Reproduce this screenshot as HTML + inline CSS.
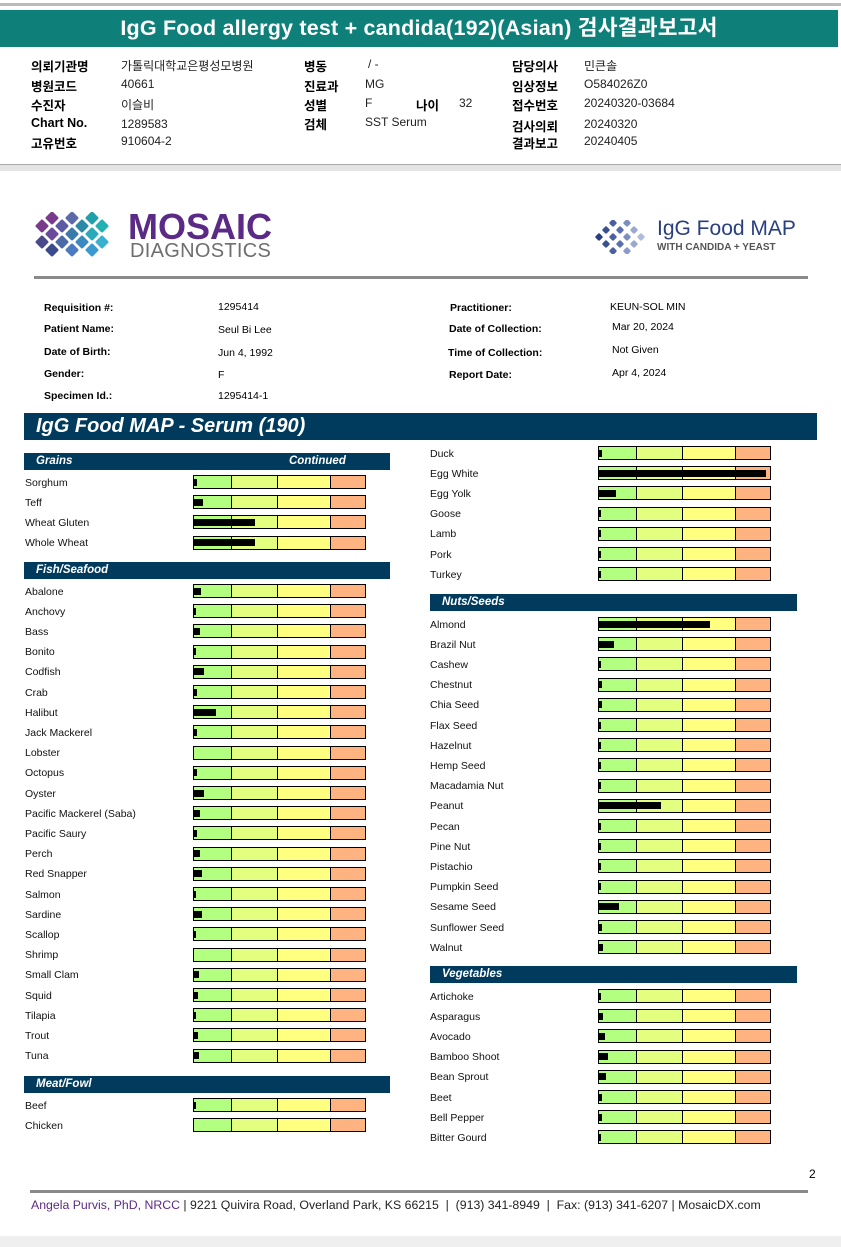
<!DOCTYPE html>
<html><head><meta charset="utf-8"><style>
body{margin:0;width:841px;height:1247px;position:relative;background:#fff;font-family:"Liberation Sans","Noto Sans CJK KR",sans-serif;overflow:hidden}
.a{position:absolute;white-space:nowrap}
.kl{font-weight:bold;font-size:12.5px;color:#000}
.kv{font-size:12px;color:#222;font-family:"Liberation Sans Narrow","Liberation Sans","Noto Sans CJK KR",sans-serif}
.il{font-weight:bold;font-size:10.5px}
.iv{font-size:10.5px}
.sec{position:absolute;background:#003a5c;color:#fff;font-weight:bold;font-style:italic;font-size:11.5px;height:17px;line-height:17px}
.lbl{position:absolute;font-size:10.5px;color:#111;white-space:nowrap}
.bar{position:absolute;height:14px;border:1.5px solid #000;box-sizing:border-box;display:flex}
.bar div{height:100%;box-sizing:border-box}
.fill{position:absolute;background:#000;height:7px}
</style></head><body>
<div class="a" style="left:0;top:3px;width:841px;height:3px;background:#bbb"></div>
<div class="a" style="left:0;top:10px;width:838px;height:37px;background:#0e8079;color:#fff;font-weight:bold;font-size:21.5px;text-align:center;line-height:37px;letter-spacing:0.2px">IgG Food allergy test + candida(192)(Asian) 검사결과보고서</div>
<div>
<div class="a kl" style="left:31px;top:56px">의뢰기관명</div><div class="a kv" style="left:121px;top:57px">가톨릭대학교은평성모병원</div>
<div class="a kl" style="left:31px;top:76px">병원코드</div><div class="a kv" style="left:121px;top:77px">40661</div>
<div class="a kl" style="left:31px;top:95px">수진자</div><div class="a kv" style="left:121px;top:96px">이슬비</div>
<div class="a kl" style="left:31px;top:116px">Chart No.</div><div class="a kv" style="left:121px;top:117px">1289583</div>
<div class="a kl" style="left:31px;top:133px">고유번호</div><div class="a kv" style="left:121px;top:134px">910604-2</div>
<div class="a kl" style="left:304px;top:56px">병동</div><div class="a kv" style="left:368px;top:57px">/ -</div>
<div class="a kl" style="left:304px;top:76px">진료과</div><div class="a kv" style="left:365px;top:77px">MG</div>
<div class="a kl" style="left:304px;top:95px">성별</div><div class="a kv" style="left:365px;top:96px">F</div>
<div class="a kl" style="left:416px;top:95px">나이</div><div class="a kv" style="left:459px;top:96px">32</div>
<div class="a kl" style="left:304px;top:114px">검체</div><div class="a kv" style="left:365px;top:115px">SST Serum</div>
<div class="a kl" style="left:512px;top:56px">담당의사</div><div class="a kv" style="left:584px;top:57px">민큰솔</div>
<div class="a kl" style="left:512px;top:76px">임상정보</div><div class="a kv" style="left:584px;top:77px">O584026Z0</div>
<div class="a kl" style="left:512px;top:95px">접수번호</div><div class="a kv" style="left:584px;top:96px">20240320-03684</div>
<div class="a kl" style="left:512px;top:116px">검사의뢰</div><div class="a kv" style="left:584px;top:117px">20240320</div>
<div class="a kl" style="left:512px;top:133px">결과보고</div><div class="a kv" style="left:584px;top:134px">20240405</div>
</div>
<div class="a" style="left:0;top:164px;width:841px;height:6px;background:#e4e4e4;border-top:1px solid #aaa"></div>

<svg class="a" style="left:34px;top:212px" width="90" height="50">
<g id="dm"></g></svg>
<div class="a" style="left:128px;top:206px;font-size:36px;font-weight:bold;color:#5b2a86;letter-spacing:0px">MOSAIC</div>
<div class="a" style="left:130px;top:240px;font-size:20px;color:#6e6e6e;letter-spacing:0.3px">DIAGNOSTICS</div>
<svg class="a" style="left:593px;top:220px" width="60" height="34"><g id="dm2"></g></svg>
<div class="a" style="left:657px;top:217px;font-size:21px;color:#2a3f7f">IgG Food MAP</div>
<div class="a" style="left:657px;top:242px;font-size:10px;color:#555;font-weight:bold">WITH CANDIDA + YEAST</div>
<div class="a" style="left:34px;top:276px;width:774px;height:3px;background:#8a8a8a"></div>

<div>
<div class="a il" style="left:44px;top:302px">Requisition #:</div><div class="a iv" style="left:218px;top:301px">1295414</div>
<div class="a il" style="left:44px;top:323px">Patient Name:</div><div class="a iv" style="left:218px;top:324px">Seul Bi Lee</div>
<div class="a il" style="left:44px;top:346px">Date of Birth:</div><div class="a iv" style="left:218px;top:347px">Jun 4, 1992</div>
<div class="a il" style="left:44px;top:368px">Gender:</div><div class="a iv" style="left:218px;top:369px">F</div>
<div class="a il" style="left:44px;top:390px">Specimen Id.:</div><div class="a iv" style="left:218px;top:390px">1295414-1</div>
<div class="a il" style="left:450px;top:302px">Practitioner:</div><div class="a iv" style="left:610px;top:301px">KEUN-SOL MIN</div>
<div class="a il" style="left:449px;top:323px">Date of Collection:</div><div class="a iv" style="left:612px;top:321px">Mar 20, 2024</div>
<div class="a il" style="left:448px;top:347px">Time of Collection:</div><div class="a iv" style="left:612px;top:344px">Not Given</div>
<div class="a il" style="left:449px;top:369px">Report Date:</div><div class="a iv" style="left:612px;top:367px">Apr 4, 2024</div>
</div>

<div class="a" style="left:24px;top:413px;width:793px;height:27px;background:#003a5c;color:#fff;font-weight:bold;font-style:italic;font-size:20px;line-height:27px;padding-left:12px;box-sizing:border-box">IgG Food MAP - Serum (190)</div>

<div id="chart"></div>

<div class="a" style="left:809px;top:1167px;font-size:12px">2</div>
<div class="a" style="left:30px;top:1190px;width:778px;height:3px;background:#8a8a8a"></div>
<div class="a" style="left:31px;top:1198px;font-size:12.3px;color:#222"><span style="color:#5b2a86">Angela Purvis, PhD, NRCC</span> | 9221 Quivira Road, Overland Park, KS 66215 &nbsp;| &nbsp;(913) 341-8949 &nbsp;| &nbsp;Fax: (913) 341-6207 | MosaicDX.com</div>
<div class="a" style="left:0;top:1236px;width:841px;height:11px;background:#efefef"></div>

<script>
// Chart data (value = % of full bar scale)
const grainsNames=["Sorghum","Teff","Wheat Gluten","Whole Wheat"];
const grainsVals=[2,5,36,36];
const fishNames=["Abalone","Anchovy","Bass","Bonito","Codfish","Crab","Halibut","Jack Mackerel","Lobster","Octopus","Oyster","Pacific Mackerel (Saba)","Pacific Saury","Perch","Red Snapper","Salmon","Sardine","Scallop","Shrimp","Small Clam","Squid","Tilapia","Trout","Tuna"];
const fishVals=[4,1,3.5,0.5,6,2,13,2,0,2,6,3.5,2,3.5,4.5,1.2,4.5,1.2,0,3,2.3,1.2,2.3,3];
const meatNames=["Beef","Chicken"];
const meatVals=[1.2,0];
const meat2Names=["Duck","Egg White","Egg Yolk","Goose","Lamb","Pork","Turkey"];
const meat2Vals=[2,98,10,0.6,0.6,1.2,0.6];
const nutsNames=["Almond","Brazil Nut","Cashew","Chestnut","Chia Seed","Flax Seed","Hazelnut","Hemp Seed","Macadamia Nut","Peanut","Pecan","Pine Nut","Pistachio","Pumpkin Seed","Sesame Seed","Sunflower Seed","Walnut"];
const nutsVals=[65,8.7,0.6,1.7,1.7,0.6,0.6,0.6,0.6,36.5,0.6,0.6,0.6,0.6,11.5,1.7,2.3];
const vegNames=["Artichoke","Asparagus","Avocado","Bamboo Shoot","Bean Sprout","Beet","Bell Pepper","Bitter Gourd"];
const vegVals=[0.6,2.3,3.5,5.2,4,1.7,1.7,1.2];
const zoneBounds=[0,22,49,80,100];
const zoneColors=["#b3ff80","#e2ff80","#ffff80","#ffb380"];

const BAR_W=173, ROW=20.2;
const chart=document.getElementById('chart');
function xScale(v){return Math.max(0,Math.min(100,v))/100*(BAR_W-3);}
function section(title,cont,x,y,w){
  const s=document.createElement('div');
  s.className='sec';
  
  
  s.style.left=x+'px';s.style.top=y+'px';s.style.width=w+'px';
  s.innerHTML='<span style="margin-left:12px">'+title+'</span>'+(cont?'<span style="position:absolute;left:265px">Continued</span>':'');
  chart.appendChild(s);
}
function rows(names,vals,lx,bx,y0){
  names.forEach((n,i)=>{
    const cy=y0+i*ROW;
    const l=document.createElement('div');
    l.className='lbl';
    
    
    l.style.left=lx+'px';l.style.top=(cy-5.5)+'px';l.textContent=n;chart.appendChild(l);
    const b=document.createElement('div');
    b.className='bar';
    
    
    b.style.left=bx+'px';b.style.top=(cy-7)+'px';b.style.width=BAR_W+'px';
    for(let z=0;z<4;z++){
      const d=document.createElement('div');
      d.style.background=zoneColors[z];
      d.style.width=(zoneBounds[z+1]-zoneBounds[z])+'%';
      if(z<3)d.style.borderRight='1.5px solid #000';
      b.appendChild(d);
    }
    chart.appendChild(b);
    const w=xScale(vals[i]);
    if(w>0){
      const f=document.createElement('div');
      f.className='fill';
      
      
      f.style.left=(bx+1)+'px';f.style.top=(cy-3.5)+'px';f.style.width=Math.max(1.5,w)+'px';
      chart.appendChild(f);
    }
  });
}
section('Grains',true,24,453,366);
rows(grainsNames,grainsVals,25,193,482);
section('Fish/Seafood',false,24,562,366);
rows(fishNames,fishVals,25,193,591);
section('Meat/Fowl',false,24,1076,366);
rows(meatNames,meatVals,25,193,1105);
rows(meat2Names,meat2Vals,430,598,453);
section('Nuts/Seeds',false,430,594,367);
rows(nutsNames,nutsVals,430,598,624);
section('Vegetables',false,430,966,367);
rows(vegNames,vegVals,430,598,996);

// logo diamonds
function diamonds(g,pts,s){
  pts.forEach(p=>{
    const r=document.createElementNS('http://www.w3.org/2000/svg','rect');
    
    
    r.setAttribute('x',-s/2);r.setAttribute('y',-s/2);r.setAttribute('width',s);r.setAttribute('height',s);r.setAttribute('rx',1.5);
    r.setAttribute('fill',p[2]);
    r.setAttribute('transform','translate('+p[0]+','+p[1]+') rotate(45)');
    g.appendChild(r);
  });
}
diamonds(document.getElementById('dm'),[
[8,14,'#7a3a8c'],[18,6,'#7a3a8c'],[18,22,'#6a4a9a'],[28,14,'#5a5aa6'],[8,30,'#4a4a8a'],[28,30,'#4a6aa8'],[18,38,'#3a4a8a'],
[38,6,'#5a6aaa'],[38,22,'#3a7aaa'],[48,14,'#2a8aa8'],[58,6,'#20a0a8'],[48,30,'#3a8ac0'],[58,22,'#2aaab8'],[68,14,'#22b0b0'],[58,38,'#3a9ad0'],[68,30,'#3ab0d0'],[38,38,'#4a7ac0']],10);
diamonds(document.getElementById('dm2'),[
[6,17,'#2a3f7f'],[13,10,'#3a4f8f'],[13,24,'#3a4f8f'],[20,17,'#4a5f9f'],[20,3,'#4a5f9f'],[20,31,'#4a5f9f'],[27,10,'#5a6faf'],[27,24,'#5a6faf'],[34,17,'#7a8fc0'],[34,3,'#7a8fc0'],[41,10,'#9aa8d0'],[41,24,'#9aa8d0'],[48,17,'#b0bbdd'],[34,31,'#8a9ad0']],6);
</script>
</body></html>
